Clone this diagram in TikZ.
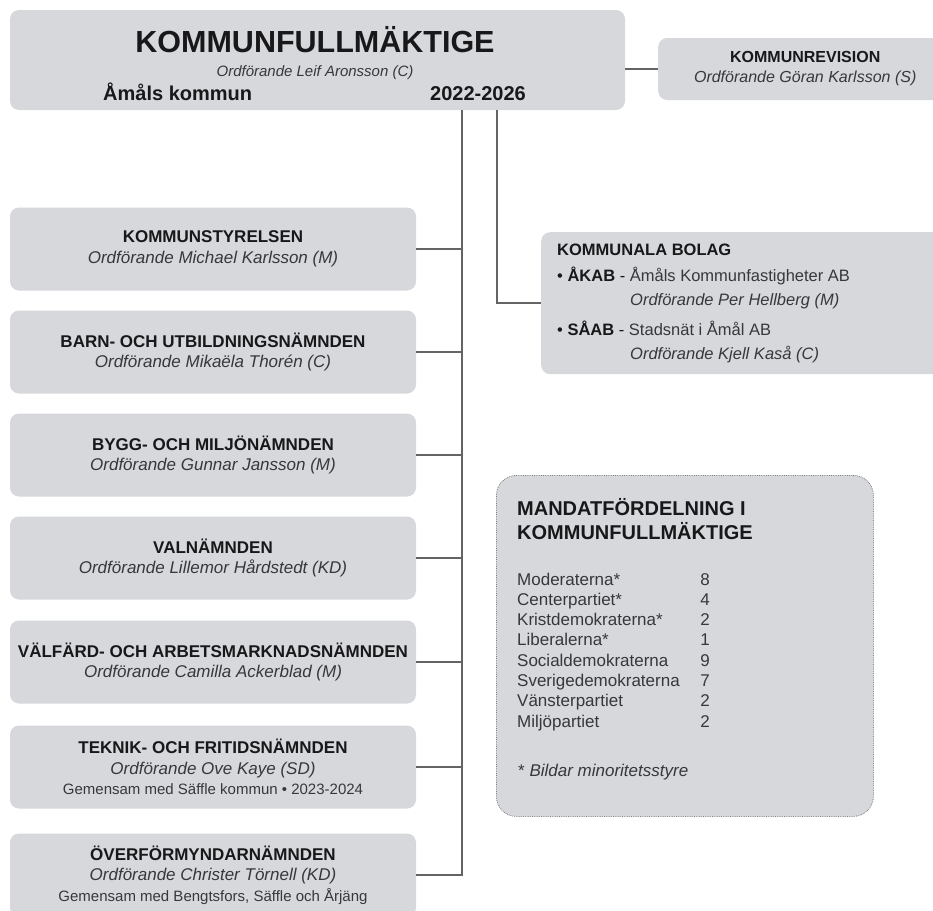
\documentclass[tikz,border=0pt]{standalone}
\usepackage{fontspec}
\setmainfont{Liberation Sans}
\definecolor{boxgray}{RGB}{214,216,219}
\definecolor{linegray}{RGB}{100,100,100}
\definecolor{txt}{RGB}{24,24,26}
\definecolor{subtxt}{RGB}{55,55,60}
\newcommand{\fs}[2]{\fontsize{#1}{#2}\selectfont}
\newcommand{\ordf}[1]{\textcolor{subtxt}{\itshape #1}}

\begin{document}
\begin{tikzpicture}[x=1pt,y=-1pt,
  gbox/.style={fill=boxgray, rounded corners=9pt, inner sep=0pt, align=center, text=txt},
  nbox/.style={gbox, minimum width=406pt, minimum height=83pt, font=\fs{17}{20.5}},
  btxt/.style={anchor=base west, inner sep=0pt, text=txt, font=\fs{16.5}{20}},
  ptxt/.style={inner sep=0pt, text=subtxt, font=\fs{17}{20}},
  conn/.style={draw=linegray, line width=1.9pt}]

  \clip (0,0) rectangle (933,910);
  \fill[white] (0,0) rectangle (933,910);

% Kommunfullmaktige och revision
  \node[gbox, minimum width=615pt, minimum height=100pt] (kf) at (317.5,60) {};
  \node[anchor=base, inner sep=0pt, text=txt, font=\fs{30.5}{34}\bfseries] (kftitle) at (315,52) {KOMMUNFULLMÄKTIGE};
  \node[anchor=base, inner sep=0pt, font=\fs{15}{18}] (kfordf) at (315,76) {\ordf{Ordförande Leif Aronsson (C)}};
  \node[anchor=base west, inner sep=0pt, text=txt, font=\fs{20}{24}\bfseries] (kfort) at (103,100) {Åmåls kommun};
  \node[anchor=base west, inner sep=0pt, text=txt, font=\fs{20}{24}\bfseries] (kfar) at (430,100) {2022-2026};

  \node[gbox, minimum width=294pt, minimum height=62pt, anchor=west, font=\fs{16}{20}] (kr) at (658,69) {\textbf{KOMMUNREVISION}\\\ordf{Ordförande Göran Karlsson (S)}};
  \draw[conn] (kf.east |- kr.west) -- (kr.west);

% namnder
  \node[nbox] (ks) at (213,249) {\textbf{KOMMUNSTYRELSEN}\\\ordf{Ordförande Michael Karlsson (M)}};
  \node[nbox] (bun) at (213,352) {\textbf{BARN- OCH UTBILDNINGSNÄMNDEN}\\\ordf{Ordförande Mikaëla Thorén (C)}};
  \node[nbox] (bmn) at (213,455) {\textbf{BYGG- OCH MILJÖNÄMNDEN}\\\ordf{Ordförande Gunnar Jansson (M)}};
  \node[nbox] (vn) at (213,558) {\textbf{VALNÄMNDEN}\\\ordf{Ordförande Lillemor Hårdstedt (KD)}};
  \node[nbox] (van) at (213,662) {\textbf{VÄLFÄRD- OCH ARBETSMARKNADSNÄMNDEN}\\\ordf{Ordförande Camilla Ackerblad (M)}};
  \node[nbox] (tfn) at (213,767) {\textbf{TEKNIK- OCH FRITIDSNÄMNDEN}\\\ordf{Ordförande Ove Kaye (SD)}\\{\fs{15}{20.5}\textcolor{subtxt}{Gemensam med Säffle kommun • 2023-2024}}};
  \node[nbox] (ofn) at (213,875) {\textbf{ÖVERFÖRMYNDARNÄMNDEN}\\\ordf{Ordförande Christer Törnell (KD)}\\{\fs{15}{20.5}\textcolor{subtxt}{Gemensam med Bengtsfors, Säffle och Årjäng}}};

  \coordinate (bus) at (462,0);
  \draw[conn] (kf.south -| bus) -- (bus |- ofn.east) -- (ofn.east);
  \draw[conn] (ks.east) -- (ks.east -| bus);  \draw[conn] (bun.east) -- (bun.east -| bus);
  \draw[conn] (bmn.east) -- (bmn.east -| bus); \draw[conn] (vn.east) -- (vn.east -| bus);
  \draw[conn] (van.east) -- (van.east -| bus); \draw[conn] (tfn.east) -- (tfn.east -| bus);

% bolag
  \node[gbox, minimum width=420pt, minimum height=142pt, anchor=north west] (bolag) at (541,232) {};
  \coordinate (btap) at (497,0);
  \draw[conn] (kf.south -| btap) |- (bolag.west);
  \node[btxt] (bolagt) at (557,255) {\bfseries KOMMUNALA BOLAG};
  \node[btxt] (akab) at (557,281) {• \textbf{ÅKAB} - \textcolor{subtxt}{Åmåls Kommunfastigheter AB}};
  \node[btxt] (akabo) at (630,305) {\ordf{Ordförande Per Hellberg (M)}};
  \node[btxt] (saab) at (557,335) {• \textbf{SÅAB} - \textcolor{subtxt}{Stadsnät i Åmål AB}};
  \node[btxt] (saabo) at (630,359) {\ordf{Ordförande Kjell Kaså (C)}};

% mandatfordelning
  \node[fill=boxgray, draw=gray, densely dotted, line width=0.8pt, rounded corners=20pt, minimum width=377pt, minimum height=341pt, anchor=north west] (mandat) at (496,475) {};
  \node[anchor=base west, inner sep=0pt, text=txt, font=\fs{20}{24}\bfseries] (mt1) at (517,515) {MANDATFÖRDELNING I};
  \node[anchor=base west, inner sep=0pt, text=txt, font=\fs{20}{24}\bfseries] (mt2) at (517,539) {KOMMUNFULLMÄKTIGE};
  \foreach \party/\seats [count=\i] in {Moderaterna*/8, Centerpartiet*/4, Kristdemokraterna*/2, Liberalerna*/1,
      Socialdemokraterna/9, Sverigedemokraterna/7, Vänsterpartiet/2, Miljöpartiet/2}
    { \node[ptxt, anchor=base west] (party\i) at (517,{564.7+20.3*\i}) {\party};
      \node[ptxt, anchor=base] (seats\i) at (705,{564.7+20.3*\i}) {\seats}; }
  \node[ptxt, anchor=base west] (fnote) at (518,776) {* \textit{Bildar minoritetsstyre}};

\end{tikzpicture}
\end{document}
